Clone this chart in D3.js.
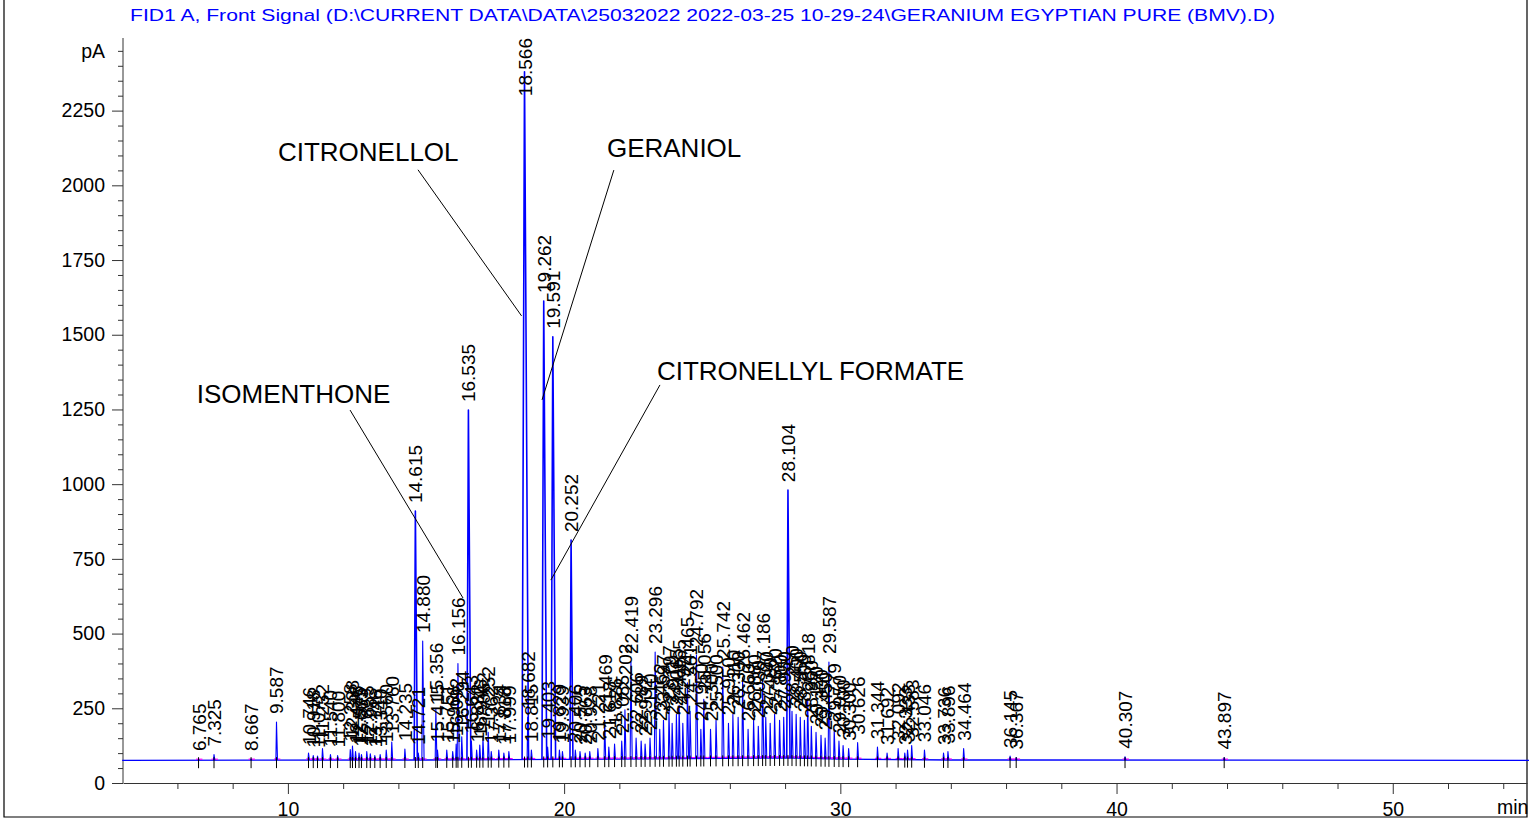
<!DOCTYPE html>
<html>
<head>
<meta charset="utf-8">
<script src="https://cdn.jsdelivr.net/npm/d3@7"></script>
<style>
  body { margin: 0; background: #fff; }
  text { font-family: Arial, "Liberation Sans", sans-serif; }
</style>
</head>
<body>
<div id="d3-container"></div>
<script>
/**
 * DATA
 * */
const titleText = "FID1 A, Front Signal (D:\\CURRENT DATA\\DATA\\25032022 2022-03-25 10-29-24\\GERANIUM EGYPTIAN PURE (BMV).D)";

// retention times (min) and apex signal (pA) of the integrated peaks
const peakTimes = [
  6.765, 7.325, 8.667, 9.587,
  10.746, 10.918, 11.072, 11.252, 11.540, 11.800,
  12.258, 12.338, 12.448, 12.575, 12.663, 12.855, 12.983, 13.146, 13.340, 13.560, 13.760,
  14.235, 14.615, 14.721, 14.880, 15.356, 15.415, 15.751, 15.966, 16.092, 16.156, 16.294,
  16.535, 16.643, 16.832, 16.946, 17.062, 17.252, 17.362, 17.634, 17.818, 17.999,
  18.566, 18.682, 18.815, 19.262, 19.403, 19.591, 19.829, 19.939,
  20.252, 20.406, 20.575, 20.763, 20.928, 21.221, 21.469, 21.618, 21.826, 22.085, 22.202,
  22.419, 22.606, 22.789, 22.932, 23.110, 23.296, 23.462, 23.597, 23.797, 23.911,
  24.065, 24.165, 24.297, 24.465, 24.561, 24.792, 24.950, 25.056, 25.300, 25.500,
  25.742, 25.950, 26.110, 26.300, 26.462, 26.660, 26.860, 27.030, 27.186, 27.300,
  27.460, 27.620, 27.800, 27.950, 28.104, 28.250, 28.400, 28.550, 28.700, 28.818,
  28.950, 29.120, 29.300, 29.450, 29.587, 29.779, 29.950, 30.100, 30.300, 30.626,
  31.344, 31.692, 32.092, 32.333, 32.433, 32.583, 33.046, 33.736, 33.896, 34.464,
  36.145, 36.367, 40.307, 43.897
];
const peakHeights = [
  80, 95, 80, 204,
  100, 92, 90, 115, 95, 92,
  112, 124, 105, 100, 95, 105, 98, 92, 95, 110, 137,
  114, 910, 100, 475, 248, 110, 110, 105, 130, 400, 155,
  1248, 140, 110, 127, 150, 170, 105, 110, 100, 105,
  2380, 220, 110, 1613, 120, 1493, 110, 105,
  813, 110, 105, 100, 105, 115, 210, 120, 130, 140, 245,
  405, 150, 140, 130, 150, 438, 180, 210, 240, 200,
  230, 260, 200, 335, 240, 428, 180, 280, 180, 210,
  388, 200, 230, 220, 351, 180, 210, 190, 348, 220,
  200, 230, 210, 220, 980, 240, 230, 220, 210, 280,
  190, 170, 160, 150, 405, 180, 140, 125, 115, 135,
  120, 100, 115, 100, 110, 125, 110, 100, 105, 115,
  90, 85, 88, 85
];

// detector baseline (min, pA)
const baseTimes = [4, 15, 22, 28, 30, 34, 55];
const baseLevels = [76, 77, 80, 84, 80, 77, 76];

// named compounds with label and leader line (min, pA)
const annNames = ["ISOMENTHONE", "CITRONELLOL", "GERANIOL", "CITRONELLYL FORMATE"];
const annTextT = [6.70, 9.64, 21.55, 23.36];
const annTextV = [1272, 2081, 2095, 1349];
const annFromT = [12.25, 14.71, 21.80, 23.47];
const annFromV = [1248, 2052, 2051, 1332];
const annToT = [16.34, 18.46, 19.20, 19.52];
const annToV = [619, 1563, 1282, 679];

// axis ticks
const yMajor = [0, 250, 500, 750, 1000, 1250, 1500, 1750, 2000, 2250];
const xMajor = [10, 20, 30, 40, 50];

/**
 * CONSTANTS
 * */
const width = 1529, height = 821;
const plot = { left: 123, right: 1527, top: 38, bottom: 783 };

let svg, x, y, baseAt;

function init() {
  x = d3.scaleLinear().domain([4.03, 54.86]).range([plot.left, plot.right]);
  y = d3.scaleLinear().domain([0, 2493]).range([plot.bottom, plot.top]);
  baseAt = d3.scaleLinear().domain(baseTimes).range(baseLevels);

  svg = d3.select("#d3-container")
    .append("svg")
    .attr("width", width)
    .attr("height", height);

  // outer frame
  svg.append("path")
    .attr("d", `M4,0V817H1527V0`)
    .attr("fill", "none")
    .attr("stroke", "#000")
    .attr("stroke-width", 1.2);

  // title
  svg.append("text")
    .attr("x", 130).attr("y", 21)
    .attr("fill", "#0000ff")
    .attr("font-size", 17)
    .attr("textLength", 1145)
    .attr("lengthAdjust", "spacingAndGlyphs")
    .text(titleText);

  draw();
}

function draw() {
  // y axis
  const yMinor = d3.range(0, 2451, 50).filter(v => v % 250 !== 0);
  svg.append("g")
    .attr("transform", `translate(${plot.left},0)`)
    .call(d3.axisLeft(y).tickValues(yMinor).tickSize(5).tickFormat(""))
    .call(g => g.select(".domain").remove());
  const yAxis = svg.append("g")
    .attr("transform", `translate(${plot.left},0)`)
    .call(d3.axisLeft(y).tickValues(yMajor).tickSize(11).tickPadding(7)
      .tickSizeOuter(0).tickFormat(d3.format("d")));
  yAxis.select(".domain").attr("d", `M0,${plot.top}V${plot.bottom}`);
  yAxis.selectAll("text").attr("font-size", 19.5).attr("fill", "#000");

  svg.append("text")
    .attr("x", 105).attr("y", y(2450))
    .attr("dy", "0.36em")
    .attr("text-anchor", "end")
    .attr("font-size", 19.5)
    .text("pA");

  // x axis
  const xMinor = d3.range(6, 55, 2).filter(v => v % 10 !== 0);
  svg.append("g")
    .attr("transform", `translate(0,${plot.bottom})`)
    .call(d3.axisBottom(x).tickValues(xMinor).tickSize(6).tickFormat(""))
    .call(g => g.select(".domain").remove());
  const xAxis = svg.append("g")
    .attr("transform", `translate(0,${plot.bottom})`)
    .call(d3.axisBottom(x).tickValues(xMajor).tickSize(11).tickPadding(8).tickSizeOuter(0));
  xAxis.selectAll("text").attr("font-size", 19.5).attr("fill", "#000");
  svg.selectAll(".domain, .tick line").attr("stroke", "#333");

  svg.append("text")
    .attr("x", 1497).attr("y", 814)
    .attr("font-size", 19.5)
    .text("min");

  const peaks = peakTimes.map((t, i) => ({ t, h: peakHeights[i], b: baseAt(t) }));
  const line = d3.line().x(d => x(d[0])).y(d => y(d[1]));

  // detector baseline
  svg.append("path")
    .attr("d", line(baseTimes.map((t, i) => [t, baseLevels[i]])))
    .attr("fill", "none")
    .attr("stroke", "#0000ff")
    .attr("stroke-width", 1.3);

  // integration baseline (magenta)
  svg.append("g")
    .selectAll("line")
    .data(peaks)
    .join("line")
    .attr("x1", d => x(d.t - 0.09))
    .attr("x2", d => x(d.t + 0.14))
    .attr("y1", d => y(d.b) - 1)
    .attr("y2", d => y(d.b) - 1)
    .attr("stroke", "#ff00ff")
    .attr("stroke-width", 1.2);

  // peaks
  svg.append("g")
    .selectAll("path")
    .data(peaks)
    .join("path")
    .attr("d", d => {
      const wl = 0.018 + (d.h - d.b) * 0.00003;
      const wr = 0.03 + (d.h - d.b) * 0.00005;
      return line([[d.t - wl, d.b], [d.t, d.h], [d.t + wr, d.b]]);
    })
    .attr("fill", "none")
    .attr("stroke", "#0000ff")
    .attr("stroke-width", d => d.h > 600 ? 1.6 : 1.1)
    .attr("stroke-linejoin", "round");

  // peak event ticks
  svg.append("g")
    .selectAll("line")
    .data(peaks)
    .join("line")
    .attr("x1", d => x(d.t)).attr("x2", d => x(d.t))
    .attr("y1", d => y(d.b) - 3)
    .attr("y2", d => y(d.b) + 8)
    .attr("stroke", "#000")
    .attr("stroke-width", 1);

  // retention time labels
  svg.append("g")
    .selectAll("text")
    .data(peaks)
    .join("text")
    .attr("font-size", 19)
    .text(d => d.t.toFixed(3))
    .each(function (d) {
      const len = this.getComputedTextLength();
      const bottom = Math.max(y(d.h) - 8, plot.top + len);
      d3.select(this).attr("transform", `translate(${x(d.t) + 7},${bottom}) rotate(-90)`);
    });

  // compound annotations
  svg.append("g")
    .selectAll("line")
    .data(annNames)
    .join("line")
    .attr("x1", (d, i) => x(annFromT[i]))
    .attr("y1", (d, i) => y(annFromV[i]))
    .attr("x2", (d, i) => x(annToT[i]))
    .attr("y2", (d, i) => y(annToV[i]))
    .attr("stroke", "#000")
    .attr("stroke-width", 1);
  svg.append("g")
    .selectAll("text")
    .data(annNames)
    .join("text")
    .attr("x", (d, i) => x(annTextT[i]))
    .attr("y", (d, i) => y(annTextV[i]))
    .attr("font-size", 26)
    .text(d => d);
}

init();
</script>
</body>
</html>
